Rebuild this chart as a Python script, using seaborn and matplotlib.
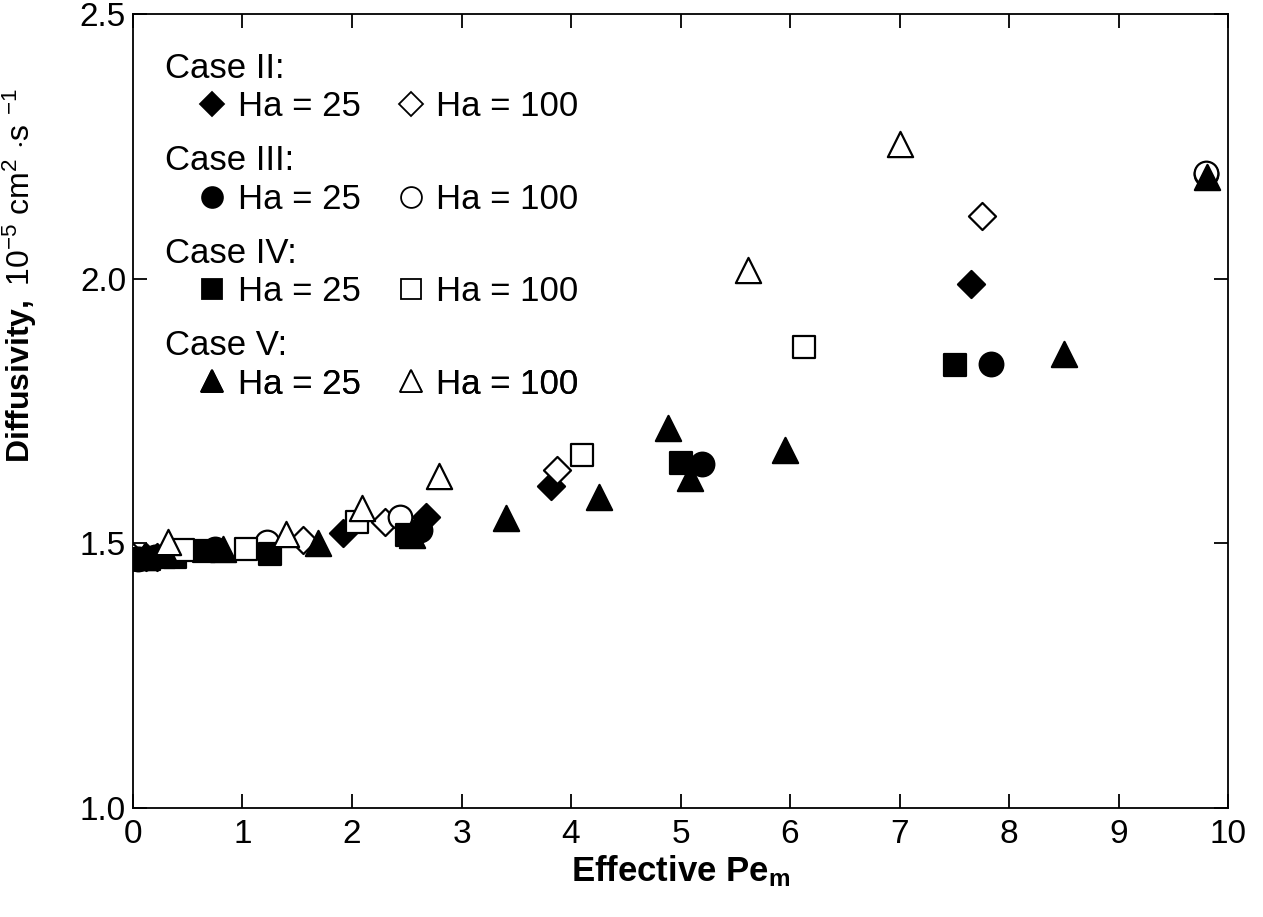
import matplotlib
matplotlib.use("Agg")
import matplotlib.pyplot as plt
from matplotlib.lines import Line2D
import seaborn as sns
import pandas as pd

# ---------------------------------------------------------------------------
# Data
# ---------------------------------------------------------------------------
c2_25_x = [0.12, 0.22, 1.92, 2.68, 3.82, 7.65]
c2_25_y = [1.475, 1.475, 1.52, 1.55, 1.608, 1.99]
c2_100_x = [0.0, 1.55, 2.30, 3.87, 7.75]
c2_100_y = [1.475, 1.506, 1.54, 1.639, 2.118]

c3_25_x = [0.05, 0.20, 0.75, 2.62, 5.20, 7.84, 9.80]
c3_25_y = [1.47, 1.475, 1.49, 1.525, 1.65, 1.839, 2.198]
c3_100_x = [1.22, 2.44, 9.80]
c3_100_y = [1.503, 1.550, 2.20]

c4_25_x = [0.05, 0.15, 0.28, 0.38, 0.65, 1.25, 2.50, 5.00, 7.51]
c4_25_y = [1.47, 1.47, 1.475, 1.475, 1.485, 1.48, 1.515, 1.652, 1.837]
c4_100_x = [0.46, 1.03, 2.05, 4.10, 6.13]
c4_100_y = [1.487, 1.49, 1.54, 1.667, 1.871]

c5_25_x = [0.10, 0.30, 0.82, 1.69, 2.55, 3.41, 4.26, 4.89, 5.09, 5.95, 8.50, 9.81]
c5_25_y = [1.475, 1.48, 1.49, 1.50, 1.515, 1.548, 1.588, 1.718, 1.623, 1.676, 1.858, 2.192]
c5_100_x = [0.32, 1.40, 2.09, 2.79, 5.62, 7.00]
c5_100_y = [1.503, 1.518, 1.567, 1.627, 2.016, 2.255]

cases = ["Case II:", "Case III:", "Case IV:", "Case V:"]
markers = ["D", "o", "s", "^"]
sizes = [190, 290, 260, 330]
legend_ms = [12.5, 15, 15, 16]
series = [
    [(c2_25_x, c2_25_y), (c2_100_x, c2_100_y)],
    [(c3_25_x, c3_25_y), (c3_100_x, c3_100_y)],
    [(c4_25_x, c4_25_y), (c4_100_x, c4_100_y)],
    [(c5_25_x, c5_25_y), (c5_100_x, c5_100_y)],
]
ha_labels = ["Ha = 25", "Ha = 100"]

# ---------------------------------------------------------------------------
# Style
# ---------------------------------------------------------------------------
sns.set_style("ticks")
plt.rcParams["font.family"] = ["Liberation Sans", "DejaVu Sans"]
plt.rcParams["mathtext.fontset"] = "custom"
plt.rcParams["mathtext.rm"] = "Liberation Sans"
plt.rcParams["mathtext.it"] = "Liberation Sans"
plt.rcParams["mathtext.bf"] = "Liberation Sans:bold"
for key in ["text.color", "axes.labelcolor", "xtick.color", "ytick.color", "axes.edgecolor"]:
    plt.rcParams[key] = "black"

fig = plt.figure(figsize=(12.63, 9.17), dpi=100)
ax = fig.add_axes([0.1053, 0.1189, 0.8670, 0.8658])

for case_series, mk, sz in zip(series, markers, sizes):
    for (xs, ys), fill in zip(case_series, ["black", "white"]):
        df = pd.DataFrame({"x": xs, "y": ys})
        sns.scatterplot(data=df, x="x", y="y", marker=mk, s=sz,
                        facecolor=fill, edgecolor="black", linewidth=1.6,
                        ax=ax, legend=False, zorder=3)

ax.set_xlim(0, 10)
ax.set_ylim(1.0, 2.5)
ax.set_xticks(range(0, 11))
ax.set_yticks([1.0, 1.5, 2.0, 2.5])
ax.set_yticklabels(["1.0", "1.5", "2.0", "2.5"])
ax.tick_params(direction="in", length=10, width=1.3, labelsize=24,
               top=True, right=True, colors="black")
ax.tick_params(axis="x", pad=8)
ax.tick_params(axis="y", pad=5)
for sp in ax.spines.values():
    sp.set_linewidth(1.3)
    sp.set_color("black")

ax.set_xlabel(r"Effective Pe$_\mathbf{m}$", fontsize=25, fontweight="bold")
ax.xaxis.set_label_coords(0.5, -0.057)
ax.set_ylabel(r"$\mathbf{Diffusivity,}$ 10$^{-5}$ cm$^{2}$ $\cdot$s $^{-1}$", fontsize=23)
ax.yaxis.set_label_coords(-0.086, 0.671)

# ---------------------------------------------------------------------------
# Legend: a title line and a two-entry row per case
# ---------------------------------------------------------------------------
title_y = [0.932, 0.816, 0.699, 0.583]
row_y = [0.883, 0.766, 0.650, 0.534]
for title, mk, ms, ty, ry in zip(cases, markers, legend_ms, title_y, row_y):
    ax.text(0.029, ty, title, transform=ax.transAxes, fontsize=25,
            ha="left", va="center")
    handles = [
        Line2D([], [], ls="none", marker=mk, ms=ms, mfc="black", mec="black", mew=1.3),
        Line2D([], [], ls="none", marker=mk, ms=ms, mfc="white", mec="black", mew=1.3),
    ]
    leg = ax.legend(handles, ha_labels, ncol=2, loc="center left",
                    bbox_to_anchor=(0.0566, ry), frameon=False, fontsize=25,
                    handlelength=1.0, handletextpad=0.23, columnspacing=0.95,
                    borderpad=0.0, borderaxespad=0.0, labelcolor="black")
    ax.add_artist(leg)

fig.savefig("out.png", dpi=100)
